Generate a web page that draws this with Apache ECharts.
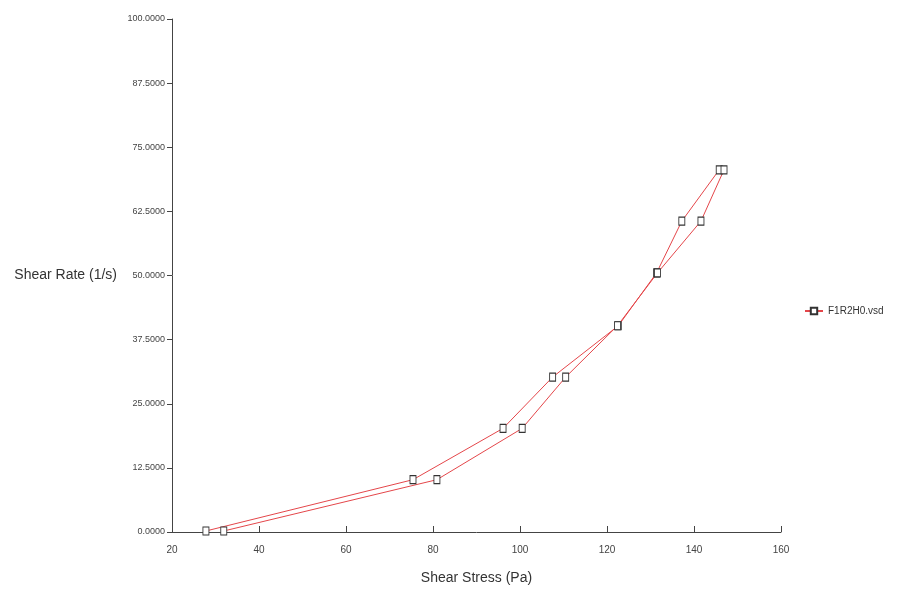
<!DOCTYPE html>
<html>
<head>
<meta charset="utf-8">
<script src="https://cdn.jsdelivr.net/npm/echarts@6/dist/echarts.min.js"></script>
<style>
  html, body { margin: 0; padding: 0; background: #fff; }
  #chart { width: 902px; height: 598px; }
</style>
</head>
<body>
<div id="chart"></div>
<script>
// shear stress (Pa) / shear rate (1/s), up-ramp then down-ramp
const shearStress = [27.8, 75.4, 96.1, 107.5, 122.6, 131.4, 137.2, 145.8, 146.9, 141.6, 131.6, 122.4, 110.5, 100.5, 80.9, 31.9]
const shearRate = [0.2, 10.2, 20.2, 30.2, 40.2, 50.5, 60.6, 70.6, 70.6, 60.6, 50.5, 40.2, 30.2, 20.2, 10.2, 0.2]
const seriesName = 'F1R2H0.vsd'

const font = "'Liberation Sans', Arial, sans-serif"
const points = shearStress.map((x, i) => [x, shearRate[i]])

const myChart = echarts.init(document.getElementById('chart'))
let option = {
  backgroundColor: '#fff',
  animation: false,
  grid: { left: 172, right: 121, top: 19, bottom: 66, outerBoundsMode: 'none' },
  legend: {
    left: 799,
    top: 301,
    itemWidth: 18,
    itemHeight: 8,
    itemGap: 4,
    textStyle: { color: '#333', fontSize: 10, fontFamily: font },
    data: [seriesName]
  },
  xAxis: {
    type: 'value',
    min: 20,
    max: 160,
    interval: 20,
    name: 'Shear Stress (Pa)',
    nameLocation: 'middle',
    nameGap: 39,
    nameTextStyle: { color: '#333', fontSize: 14, fontFamily: font },
    axisLine: { lineStyle: { color: '#444', width: 1 } },
    axisTick: { inside: true, length: 6, lineStyle: { color: '#444' } },
    axisLabel: { color: '#444', fontSize: 10, margin: 13, fontFamily: font },
    splitLine: { show: false }
  },
  yAxis: {
    type: 'value',
    min: 0,
    max: 100,
    interval: 12.5,
    name: 'Shear Rate (1/s)',
    nameLocation: 'middle',
    nameRotate: 0,
    nameGap: 55,
    nameTextStyle: { color: '#333', fontSize: 14, fontFamily: font },
    axisLine: { show: true, lineStyle: { color: '#444', width: 1 } },
    axisTick: { show: true, length: 5, lineStyle: { color: '#444' } },
    axisLabel: {
      color: '#444',
      fontSize: 9,
      margin: 7,
      fontFamily: font,
      formatter: (v) => v.toFixed(4)
    },
    splitLine: { show: false }
  },
  series: [
    {
      name: seriesName,
      type: 'line',
      data: points,
      symbol: 'rect',
      symbolSize: [6, 8],
      showAllSymbol: true,
      lineStyle: { color: '#e4464a', width: 1 },
      itemStyle: { color: '#fff', borderColor: '#333', borderWidth: 1 }
    }
  ]
}
option && myChart.setOption(option)
</script>
</body>
</html>
